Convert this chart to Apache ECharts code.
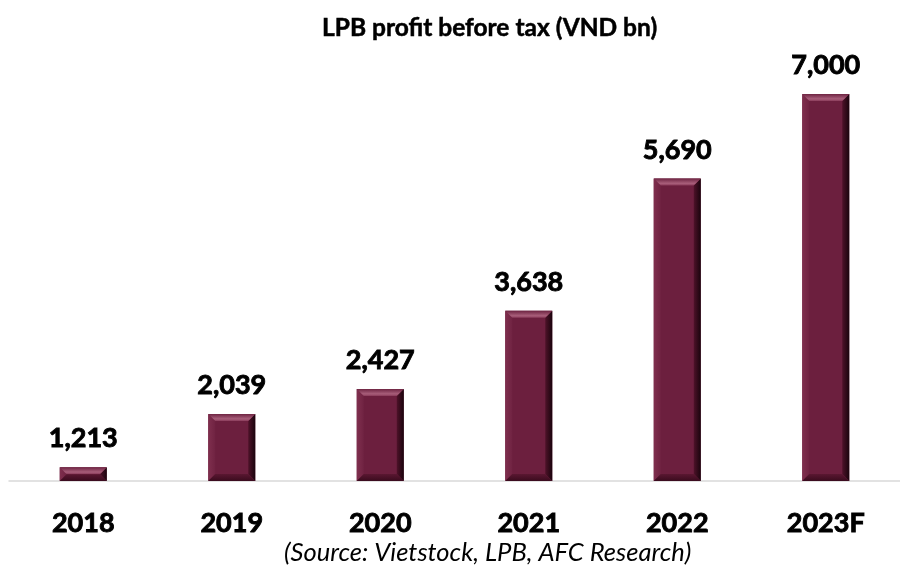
<!DOCTYPE html>
<html>
<head>
<meta charset="utf-8">
<script src="https://cdn.jsdelivr.net/npm/echarts@6/dist/echarts.min.js"></script>
<style>html,body{margin:0;padding:0;background:#fff}#c{width:900px;height:565px}</style>
</head>
<body>
<div id="c"></div>
<script>
var categories = ['2018', '2019', '2020', '2021', '2022', '2023F'];
var profitBeforeTax = [1213, 2039, 2427, 3638, 5690, 7000];
var titleText = 'LPB profit before tax (VND bn)';
var sourceText = '(Source: Vietstock, LPB, AFC Research)';

var Y_MIN = 1000, Y_MAX = 7000;
var FONT = 'Lato, "Open Sans", sans-serif';

function fmt(v) { return v.toLocaleString('en-US'); }

var chart = echarts.init(document.getElementById('c'), null, {renderer: 'canvas'});

function renderItem(params, api) {
  var idx = api.value(0);
  var val = api.value(1);
  var top = api.coord([idx, val]);
  var base = api.coord([idx, Y_MIN]);
  var bw = 47;
  var x0 = top[0] - bw / 2, x1 = top[0] + bw / 2;
  var y0 = top[1], y1 = base[1];
  var h = y1 - y0;
  var b = Math.min(7, h / 2);
  var children = [
    {type: 'rect', shape: {x: x0, y: y0, width: bw, height: h}, style: {fill: '#6c1f3e'}},
    {type: 'polygon', shape: {points: [[x0, y0], [x0 + b, y0 + b], [x0 + b, y1 - b], [x0, y1]]},
      style: {fill: new echarts.graphic.LinearGradient(0, 0, 1, 0, [{offset: 0, color: '#7f2f4e'}, {offset: 1, color: '#702342'}])}},
    {type: 'polygon', shape: {points: [[x1, y0], [x1 - b, y0 + b], [x1 - b, y1 - b], [x1, y1]]},
      style: {fill: new echarts.graphic.LinearGradient(0, 0, 1, 0, [{offset: 0, color: '#4e1229'}, {offset: 1, color: '#1a040d'}])}},
    {type: 'polygon', shape: {points: [[x0, y0], [x1, y0], [x1 - b, y0 + b], [x0 + b, y0 + b]]},
      style: {fill: new echarts.graphic.LinearGradient(0, 0, 0, 1, [{offset: 0, color: '#6e2442'}, {offset: 0.7, color: '#a85e7a'}, {offset: 1, color: '#8a3b5a'}])}},
    {type: 'polygon', shape: {points: [[x0, y1], [x1, y1], [x1 - b, y1 - b], [x0 + b, y1 - b]]},
      style: {fill: new echarts.graphic.LinearGradient(0, 0, 0, 1, [{offset: 0, color: '#5a1731'}, {offset: 1, color: '#3a0b1e'}])}},
    {type: 'text', x: top[0], y: y0 - 15,
      style: {text: fmt(val), font: 'bold 27px ' + FONT, fill: '#000', stroke: '#000', lineWidth: 0.9,
        align: 'center', verticalAlign: 'bottom'}}
  ];
  return {type: 'group', children: children};
}

chart.setOption({
  animation: false,
  title: [
    {text: titleText, left: 317, top: 11, textStyle: {fontFamily: FONT, fontWeight: 'bold', fontSize: 24.5, color: '#000', textBorderColor: '#000', textBorderWidth: 0.5}},
    {text: sourceText, left: 279, top: 535, textStyle: {fontFamily: FONT, fontStyle: 'italic', fontWeight: 'normal', fontSize: 25.5, color: '#000'}}
  ],
  grid: {left: 9, right: -12, top: 94, bottom: 84},
  xAxis: {
    type: 'category', data: categories,
    axisLine: {show: true, lineStyle: {color: '#d9d9d9', width: 1.5}},
    axisTick: {show: false},
    axisLabel: {margin: 29, fontFamily: FONT, fontWeight: 'bold', fontSize: 27, color: '#000', textBorderColor: '#000', textBorderWidth: 0.9}
  },
  yAxis: {type: 'value', min: Y_MIN, max: Y_MAX, show: false, splitLine: {show: false}},
  series: [{
    type: 'custom',
    renderItem: renderItem,
    encode: {x: 0, y: 1},
    data: profitBeforeTax.map(function (v, i) { return [i, v]; })
  }]
});
</script>
</body>
</html>
